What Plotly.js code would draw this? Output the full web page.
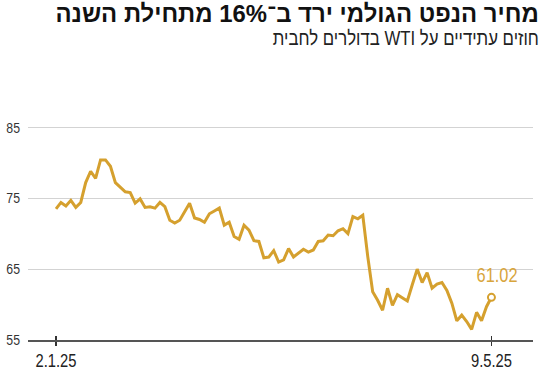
<!DOCTYPE html>
<html>
<head>
<meta charset="utf-8">
<script src="https://cdn.plot.ly/plotly-3.0.1.min.js"></script>
<style>
  html, body { margin: 0; padding: 0; background: #fff; }
  #chart { width: 550px; height: 375px; }
</style>
</head>
<body>
<div id="chart"></div>
<script>
// WTI futures, USD per barrel, trading days from 2.1.25 to 9.5.25
const prices = [
  73.5, 74.4, 73.9, 74.7, 73.7, 74.4, 77.2, 78.8, 77.8, 80.4,
  80.4, 79.5, 77.2, 76.6, 75.9, 75.8, 74.3, 74.9, 73.7, 73.8,
  73.6, 74.4, 73.8, 71.9, 71.5, 71.9, 73.1, 74.3, 72.2, 72.0,
  71.6, 72.8, 73.2, 73.6, 71.2, 71.6, 69.6, 69.2, 71.2, 70.5,
  69.0, 68.9, 66.6, 66.7, 67.6, 66.0, 66.3, 67.9, 66.7, 67.3,
  67.8, 67.4, 67.7, 68.9, 69.0, 69.8, 69.7, 70.4, 70.7, 70.0,
  72.4, 72.1, 72.6, 66.8, 61.8, 60.6, 59.2, 62.3, 59.9, 61.4,
  61.0, 60.5, 62.8, 65.0, 63.1, 64.5, 62.3, 62.9, 63.1, 62.0,
  60.2, 57.7, 58.5, 57.6, 56.5, 58.9, 57.7, 59.7, 61.02
];
const xTickLabels = ['2.1.25', '9.5.25'];
const yTicks = [55, 65, 75, 85];
const lastLabel = '61.02';
const titleText = 'מחיר הנפט הגולמי ירד ב־16% מתחילת השנה';
const subtitleText = 'חוזים עתידיים על WTI בדולרים לחבית';

const idx = prices.map((_, i) => i);
const lastI = prices.length - 1;
const xTickVals = [0, lastI];
const xRange = [-5.66, 96.4];
const gold = '#D5A02E';
const numFont = '"Liberation Sans", Arial, sans-serif';
const hebFont = '"Liberation Sans", "DejaVu Sans", sans-serif';
const RLE = '\u202B', PDF = '\u202C';

const traces = [
  {
    x: idx, y: prices, type: 'scatter', mode: 'lines',
    line: { color: gold, width: 3, shape: 'linear' },
    hoverinfo: 'skip'
  },
  {
    x: [lastI], y: [prices[lastI]], type: 'scatter', mode: 'markers',
    marker: { color: '#ffffff', size: 7, line: { color: gold, width: 2 } },
    hoverinfo: 'skip'
  },
  {
    x: [0], y: [null], xaxis: 'x2', yaxis: 'y', type: 'scatter', mode: 'lines',
    hoverinfo: 'skip'
  }
];

const layout = {
  width: 550, height: 375,
  margin: { l: 28, r: 17, t: 100, b: 35 },
  paper_bgcolor: '#ffffff', plot_bgcolor: '#ffffff',
  showlegend: false,
  xaxis: {
    range: xRange,
    showgrid: false, zeroline: false,
    showline: true, linecolor: '#555555', linewidth: 1.5,
    tickvals: xTickVals, ticktext: xTickLabels,
    ticks: 'outside', ticklen: 4, tickwidth: 1.5, tickcolor: '#333333',
    tickfont: { family: numFont, size: 18, color: '#222222' },
    fixedrange: true
  },
  xaxis2: {
    overlaying: 'x', anchor: 'y', side: 'bottom',
    range: xRange,
    showgrid: false, zeroline: false, showline: false,
    tickvals: xTickVals, showticklabels: false,
    ticks: 'inside', ticklen: 4, tickwidth: 1.5, tickcolor: '#333333',
    fixedrange: true
  },
  yaxis: {
    range: [55, 88.85],
    tickvals: yTicks, ticktext: yTicks.map(String),
    showgrid: true, gridcolor: '#d3d3d3', gridwidth: 1,
    zeroline: false, showline: false, ticks: '',
    tickfont: { family: numFont, size: 15, color: '#333333' },
    ticklabelstandoff: 7,
    fixedrange: true
  },
  annotations: [
    {
      x: lastI, y: prices[lastI], xref: 'x', yref: 'y',
      text: lastLabel, showarrow: false,
      xanchor: 'center', yanchor: 'bottom', xshift: 6, yshift: 9,
      font: { family: numFont, size: 20, color: '#D8A53C' }
    },
    {
      x: 1.016, y: 1.3596, xref: 'paper', yref: 'paper',
      text: '<b>' + RLE + titleText + PDF + '</b>', showarrow: false,
      xanchor: 'right', yanchor: 'middle',
      font: { family: hebFont, size: 24, color: '#111111' }
    },
    {
      x: 1.016, y: 1.258, xref: 'paper', yref: 'paper',
      text: RLE + subtitleText + PDF, showarrow: false,
      xanchor: 'right', yanchor: 'middle',
      font: { family: hebFont, size: 20, color: '#222222' }
    }
  ]
};

// horizontally condense text (the source uses a condensed typeface)
function squeeze(nodes, s, anchor) {
  nodes.forEach(t => {
    const b = t.getBBox();
    const cx = anchor === 'right' ? b.x + b.width : (anchor === 'left' ? b.x : b.x + b.width / 2);
    const prev = t.getAttribute('transform') || '';
    t.setAttribute('transform', prev + ' translate(' + cx + ',0) scale(' + s + ',1) translate(' + (-cx) + ',0)');
  });
}

Plotly.newPlot('chart', traces, layout, { displayModeBar: false, staticPlot: true }).then(gd => {
  squeeze(gd.querySelectorAll('.xtick text'), 0.82, 'center');
  squeeze(gd.querySelectorAll('.ytick text'), 0.82, 'right');
  const ann = gd.querySelectorAll('.annotation-text');
  if (ann[0]) squeeze([ann[0]], 0.82, 'center');
  if (ann[1]) squeeze([ann[1]], 0.995, 'right');
  if (ann[2]) squeeze([ann[2]], 0.84, 'right');
});
</script>
</body>
</html>
